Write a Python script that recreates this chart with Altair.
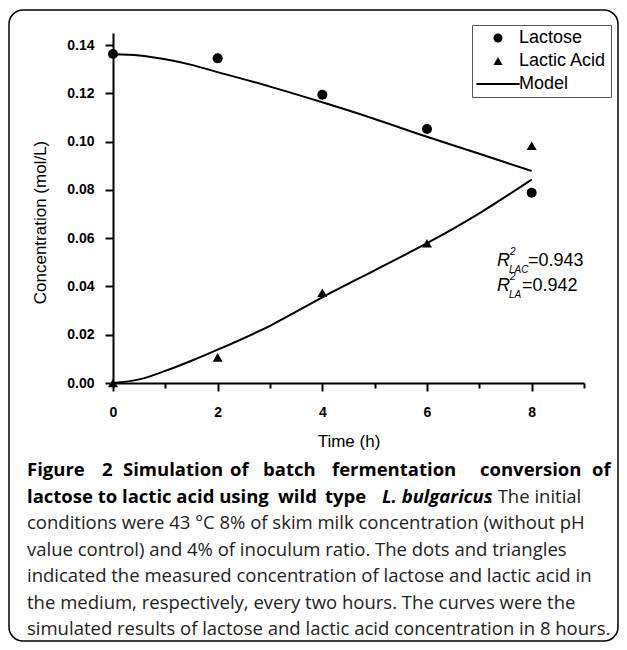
import altair as alt
import pandas as pd

# ---------------- data ----------------
hours = [0, 2, 4, 6, 8]
lactose = [0.1363, 0.1345, 0.1194, 0.1052, 0.0788]
lactic_acid = [0.0, 0.0106, 0.0374, 0.0579, 0.0983]

model_hours = [0, 0.5, 1, 1.5, 2, 3, 4, 5, 6, 7, 8]
model_lactose = [0.1362, 0.1357, 0.1341, 0.1318, 0.1288, 0.1228, 0.1163, 0.1094, 0.1020, 0.0950, 0.0878]
model_lactic = [0.0, 0.0015, 0.0050, 0.0092, 0.0138, 0.0237, 0.0355, 0.0467, 0.0579, 0.0703, 0.0843]

x_ticks = [0, 1, 2, 3, 4, 5, 6, 7, 8, 9]
y_ticks = [0.00, 0.01, 0.02, 0.03, 0.04, 0.05, 0.06, 0.07, 0.08, 0.09, 0.10, 0.11, 0.12, 0.13, 0.14]

series = ["Lactose", "Lactic Acid", "Model"]
shapes = ["circle", "triangle-up", "M-4.8,-0.24H4.8V0.24H-4.8Z"]

x_title = "Time (h)"
y_title = "Concentration (mol/L)"

r2_subs = ["LAC", "LA"]
r2_values = ["=0.943", "=0.942"]

caption_words_1 = ["Figure", "2", "Simulation", "of", "batch", "fermentation", "conversion", "of"]
caption_word_x_1 = [-86, -11, 10, 117, 150, 219, 367, 479]
caption_words_2 = ["lactose to lactic acid using", "wild", "type"]
caption_word_x_2 = [-86, 165, 212]
caption_italic_2 = "L. bulgaricus"
caption_plain_2 = ". The initial"
caption_lines = [
    "conditions were 43 \u00b0C 8% of skim milk concentration (without pH",
    "value control) and 4% of inoculum ratio. The dots and triangles",
    "indicated the measured concentration of lactose and lactic acid in",
    "the medium, respectively, every two hours. The curves were the",
    "simulated results of lactose and lactic acid concentration in 8 hours.",
]

# ---------------- tables ----------------
pts = pd.DataFrame({
    "t": hours + hours,
    "c": lactose + lactic_acid,
    "s": ["Lactose"] * len(hours) + ["Lactic Acid"] * len(hours),
})
mdl = pd.DataFrame({
    "t": model_hours + model_hours,
    "c": model_lactose + model_lactic,
    "curve": ["lactose"] * len(model_hours) + ["lactic"] * len(model_hours),
})
one = pd.DataFrame({"k": [0]})

FONT = "Liberation Sans"
CAP = "Open Sans"
W, H = 471, 350

xs = alt.Scale(domain=[0, 9], nice=False, zero=False)
ys = alt.Scale(domain=[0, 0.145], nice=False)

x_axis = alt.Axis(
    values=x_ticks,
    labelExpr="datum.value % 2 === 0 ? datum.label : ''",
    tickSize={"condition": {"test": "datum.value % 2 === 0", "value": 8}, "value": 5},
    title=x_title, grid=False,
    domainColor="black", domainWidth=2, tickColor="black", tickWidth=2,
    labelFont=FONT, labelFontSize=14, labelFontWeight="bold", labelColor="black",
    labelPadding=14, labelFlush=False, labelOverlap=False,
    titleFont=FONT, titleFontSize=17, titleFontWeight="normal", titleColor="black",
    titlePadding=14,
)
y_axis = alt.Axis(
    values=y_ticks,
    labelExpr="round(datum.value*100) % 2 === 0 ? format(datum.value, '.2f') : ''",
    tickSize={"condition": {"test": "round(datum.value*100) % 2 === 0", "value": 8}, "value": 5},
    title=y_title, grid=False,
    domainColor="black", domainWidth=2, tickColor="black", tickWidth=2,
    labelFont=FONT, labelFontSize=14, labelFontWeight="bold", labelColor="black",
    labelPadding=11, labelFlush=False, labelOverlap=False,
    titleFont=FONT, titleFontSize=17, titleFontWeight="normal", titleColor="black",
    titlePadding=17, titleY=189,
)

legend = alt.Legend(
    orient="none", legendX=359, legendY=-8, title=None,
    labelFont=FONT, labelFontSize=18, labelColor="black",
    symbolSize=81, symbolFillColor="black", symbolStrokeColor="black",
    symbolOffset=13, labelOffset=12, rowPadding=5, padding=4,
    strokeColor="#555555", fillColor="white",
)

border = alt.Chart(one).mark_rect(
    fillOpacity=0, stroke="black", strokeWidth=1.5, cornerRadius=14
).encode(x=alt.value(-104), x2=alt.value(505), y=alt.value(-23), y2=alt.value(608))

lines = alt.Chart(mdl).mark_line(color="black", strokeWidth=2, interpolate="monotone").encode(
    x=alt.X("t:Q", scale=xs, title=x_title),
    y=alt.Y("c:Q", scale=ys, title=y_title),
    detail="curve:N",
)

points = alt.Chart(pts).mark_point(filled=True, size=100, opacity=1, color="black").encode(
    x=alt.X("t:Q", scale=xs, axis=x_axis),
    y=alt.Y("c:Q", scale=ys, axis=y_axis),
    shape=alt.Shape("s:N", scale=alt.Scale(domain=series, range=shapes), legend=legend),
)


def txt(s, x, y, size, weight="normal", style="normal", font=FONT, color="black", baseline="alphabetic"):
    return alt.Chart(one).mark_text(
        text=s, align="left", baseline=baseline, font=font, fontSize=size,
        fontWeight=weight, fontStyle=style, color=color,
    ).encode(x=alt.value(x), y=alt.value(y))


ann = []
# R^2 annotations
for i, (sub, val) in enumerate(zip(r2_subs, r2_values)):
    base_y = 233 + 25 * i
    ann.append(txt("R", 384, base_y, 18, style="italic"))
    ann.append(txt("2", 397, base_y - 11, 10, style="italic"))
    ann.append(txt(sub, 396, base_y + 7, 10, style="italic"))
    ann.append(txt(val, 415 if i == 0 else 409, base_y, 18))

# caption
cap_x = -86
cap_size = 18.5
line_y = [437, 463.5, 490, 516.5, 543, 569.5, 596]
for w, wx in zip(caption_words_1, caption_word_x_1):
    ann.append(txt(w, wx, line_y[0], cap_size, weight="bold", font=CAP, baseline="middle"))
for w, wx in zip(caption_words_2, caption_word_x_2):
    ann.append(txt(w, wx, line_y[1], cap_size, weight="bold", font=CAP, baseline="middle"))
ann.append(txt(caption_italic_2, 269, line_y[1], cap_size, weight="bold", style="italic", font=CAP, baseline="middle"))
ann.append(txt(caption_plain_2, 375, line_y[1], cap_size, font=CAP, color="#222222", baseline="middle"))
for j, line in enumerate(caption_lines):
    ann.append(txt(line, cap_x, line_y[2 + j], cap_size, font=CAP, color="#222222", baseline="middle"))

chart = alt.layer(border, lines, points, *ann).properties(
    width=W, height=H,
    autosize=alt.AutoSizeParams(type="none"),
    padding={"left": 105, "top": 25, "right": 35, "bottom": 259},
    background="white",
).configure_view(stroke=None)

chart.save("out.html", embed_options={"renderer": "svg", "actions": False})
